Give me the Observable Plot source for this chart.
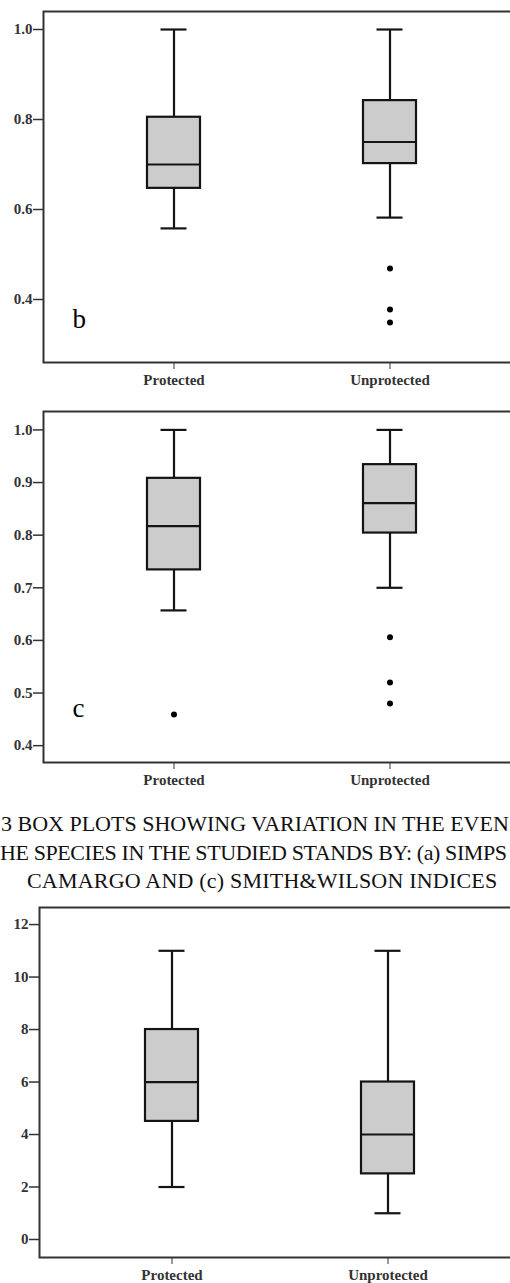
<!DOCTYPE html>
<html>
<head>
<meta charset="utf-8">
<script src="https://cdn.jsdelivr.net/npm/d3@7"></script>
<script src="https://cdn.jsdelivr.net/npm/@observablehq/plot@0.6"></script>
<style>
  html, body { margin: 0; padding: 0; background: #fff; }
  body { width: 510px; height: 1283px; overflow: hidden; position: relative; }
  .panel { position: absolute; left: 0; width: 530px; }
  .panel svg { max-width: none !important; }
  .cap { position: absolute; white-space: nowrap; font-family: "Liberation Serif", serif; font-size: 22px; line-height: 28.5px; color: #111; }
</style>
</head>
<body>
<div id="pb" class="panel" style="top:0px"></div>
<div id="pc" class="panel" style="top:400px"></div>
<div class="cap" style="top:810px; left:1px">3 BOX PLOTS SHOWING VARIATION IN THE EVEN</div>
<div class="cap" style="top:839px; left:0px; letter-spacing:-0.4px">HE SPECIES IN THE STUDIED STANDS BY: (a) SIMPS</div>
<div class="cap" style="top:867px; left:27px; letter-spacing:0.2px">CAMARGO AND (c) SMITH&amp;WILSON INDICES</div>
<div id="pd" class="panel" style="top:896px"></div>
<script>
const groups = ["Protected", "Unprotected"];

// Panel b (Camargo)
const bLow  = [0.558, 0.582];
const bQ1   = [0.647, 0.702];
const bMed  = [0.700, 0.750];
const bQ3   = [0.805, 0.842];
const bHigh = [1.000, 1.000];
const bOutGroup = ["Unprotected", "Unprotected", "Unprotected"];
const bOutValue = [0.469, 0.378, 0.349];
const bTicks = [0.4, 0.6, 0.8, 1.0];

// Panel c (Smith & Wilson)
const cLow  = [0.657, 0.700];
const cQ1   = [0.734, 0.804];
const cMed  = [0.817, 0.861];
const cQ3   = [0.908, 0.934];
const cHigh = [1.000, 1.000];
const cOutGroup = ["Protected", "Unprotected", "Unprotected", "Unprotected"];
const cOutValue = [0.459, 0.606, 0.520, 0.480];
const cTicks = [0.4, 0.5, 0.6, 0.7, 0.8, 0.9, 1.0];

// Bottom panel
const dLow  = [2, 1];
const dQ1   = [4.5, 2.5];
const dMed  = [6, 4];
const dQ3   = [8, 6];
const dHigh = [11, 11];
const dTicks = [0, 2, 4, 6, 8, 10, 12];

function rowsOf(low, q1, med, q3, high) {
  return groups.map((g, i) => ({group: g, low: low[i], q1: q1[i], med: med[i], q3: q3[i], high: high[i]}));
}
function outOf(gs, vs) {
  return gs.map((g, i) => ({group: g, value: vs[i]}));
}

const ink = "#141414";

function panel({rows, outliers, yDomain, yTicks, fmt, letter, letterDy, marginLeft, paddingOuter, height, marginBottom}) {
  const marks = [
    Plot.frame({stroke: "#333", strokeWidth: 2}),
    Plot.axisY({ticks: yTicks, tickFormat: fmt, tickSize: 10, tickPadding: 1, fontSize: 15, fontWeight: "bold", color: "#333", strokeWidth: 1.5, label: null}),
    Plot.axisX({tickSize: 7, tickPadding: 5, fontSize: 15, fontWeight: "bold", color: "#333", strokeWidth: 1, label: null}),
    Plot.ruleX(rows, {x: "group", y1: "low", y2: "high", stroke: ink, strokeWidth: 2.2}),
    Plot.barY(rows, {x: "group", y1: "q1", y2: "q3", fill: "#cccccc", stroke: ink, strokeWidth: 2.2}),
    Plot.tickY(rows, {x: "group", y: "med", stroke: ink, strokeWidth: 2.2}),
    Plot.tickY(rows, {x: "group", y: "low", stroke: ink, strokeWidth: 2.2, insetLeft: 13.5, insetRight: 13.5}),
    Plot.tickY(rows, {x: "group", y: "high", stroke: ink, strokeWidth: 2.2, insetLeft: 13.5, insetRight: 13.5})
  ];
  if (outliers.length) marks.push(Plot.dot(outliers, {x: "group", y: "value", r: 3, fill: "#000", stroke: "none"}));
  if (letter) marks.push(Plot.text([letter], {frameAnchor: "bottom-left", dx: 29, dy: letterDy, fontSize: 27, fontWeight: "normal", textAnchor: "start", lineAnchor: "bottom", fill: "#000"}));
  return Plot.plot({
    width: 530,
    height,
    marginLeft,
    marginRight: 11,
    marginTop: 11,
    marginBottom,
    style: {fontFamily: "Liberation Serif", background: "transparent", overflow: "visible", maxWidth: "none"},
    x: {type: "band", domain: groups, paddingInner: 0.755, paddingOuter, axis: null},
    y: {domain: yDomain, axis: null},
    marks
  });
}

document.getElementById("pb").append(panel({
  rows: rowsOf(bLow, bQ1, bMed, bQ3, bHigh), outliers: outOf(bOutGroup, bOutValue),
  yDomain: [0.26, 1.04], yTicks: bTicks, fmt: ".1f", letter: "b", letterDy: -35,
  marginLeft: 43, paddingOuter: 0.479, height: 400, marginBottom: 38
}));
document.getElementById("pc").append(panel({
  rows: rowsOf(cLow, cQ1, cMed, cQ3, cHigh), outliers: outOf(cOutGroup, cOutValue),
  yDomain: [0.368, 1.035], yTicks: cTicks, fmt: ".1f", letter: "c", letterDy: -46,
  marginLeft: 43, paddingOuter: 0.479, height: 400, marginBottom: 38
}));
document.getElementById("pd").append(panel({
  rows: rowsOf(dLow, dQ1, dMed, dQ3, dHigh), outliers: [],
  yDomain: [-0.686, 12.65], yTicks: dTicks, fmt: "d", letter: null,
  marginLeft: 39, paddingOuter: 0.4886, height: 387, marginBottom: 26
}));
</script>
</body>
</html>
